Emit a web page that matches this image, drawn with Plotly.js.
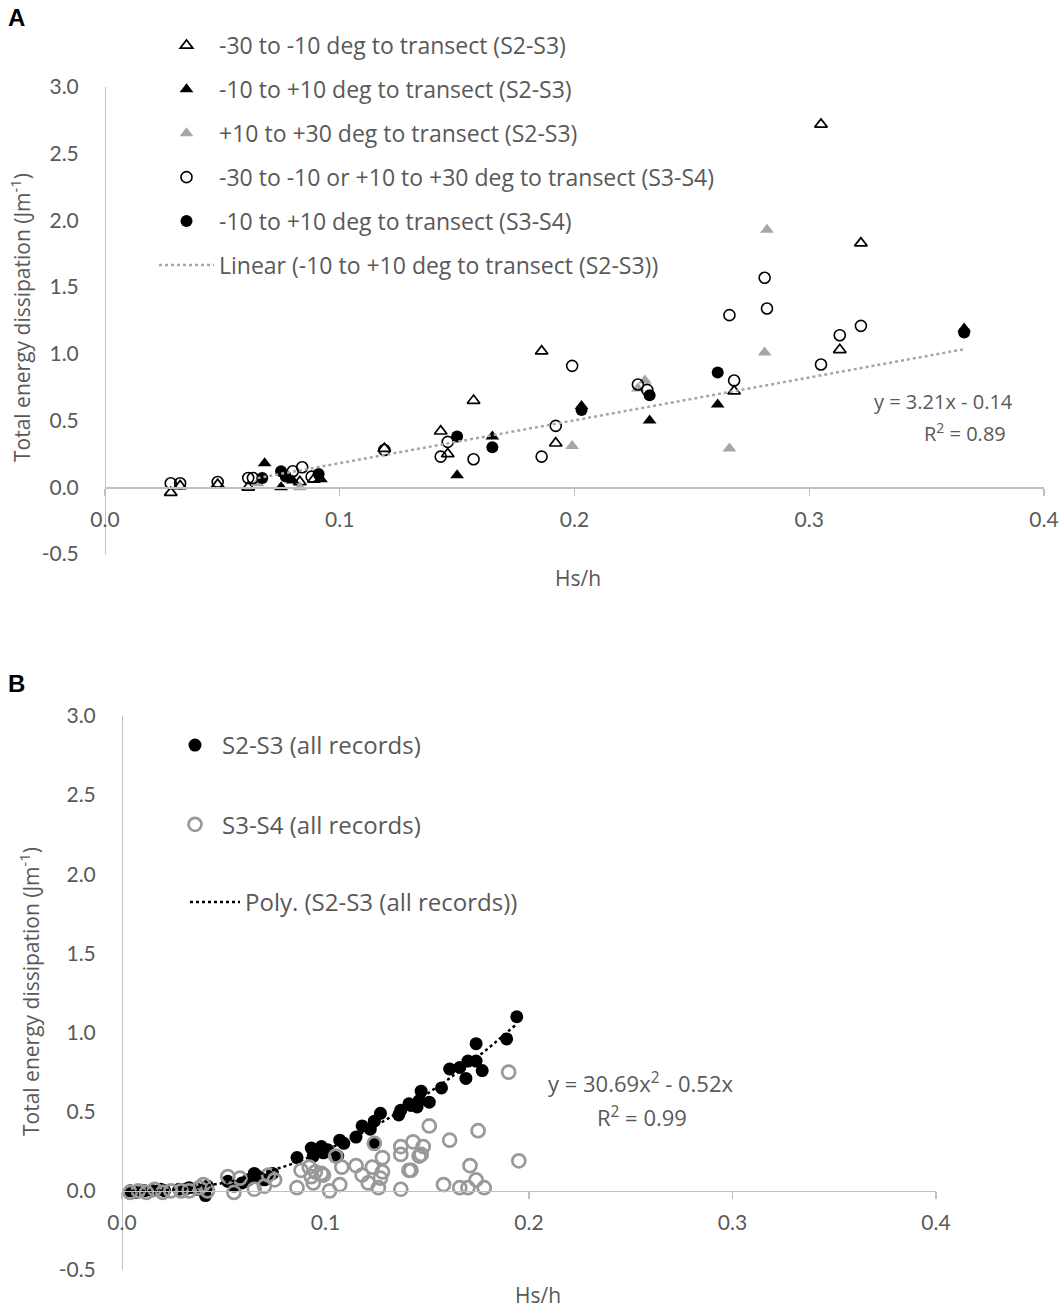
<!DOCTYPE html>
<html>
<head>
<meta charset="utf-8">
<script src="https://cdn.plot.ly/plotly-3.0.1.min.js"></script>
<style>html,body{margin:0;padding:0;background:#fff;}#chart{width:1064px;height:1309px;}</style>
</head>
<body>
<div id="chart"></div>
<script>
// ---------- Panel A data ----------
const aOpenTriX = [0.028,0.032,0.048,0.061,0.083,0.089,0.119,0.143,0.146,0.157,0.186,0.192,0.268,0.305,0.313,0.322];
const aOpenTriY = [-0.04,0.01,0.02,0.00,0.04,0.06,0.29,0.42,0.25,0.65,1.02,0.33,0.72,2.72,1.03,1.83];
const aBlackTriX = [0.068,0.075,0.080,0.092,0.150,0.165,0.203,0.232,0.261,0.366];
const aBlackTriY = [0.18,0.00,0.05,0.06,0.09,0.38,0.61,0.50,0.62,1.19];
const aGrayTriX = [0.065,0.083,0.199,0.227,0.230,0.266,0.281,0.282];
const aGrayTriY = [0.03,0.00,0.31,0.74,0.80,0.29,1.01,1.93];
const aOpenCircX = [0.028,0.032,0.048,0.061,0.063,0.080,0.084,0.088,0.119,0.143,0.146,0.157,0.186,0.192,0.199,0.227,0.231,0.266,0.268,0.281,0.282,0.305,0.313,0.322];
const aOpenCircY = [0.03,0.03,0.04,0.07,0.07,0.12,0.15,0.08,0.28,0.23,0.34,0.21,0.23,0.46,0.91,0.77,0.73,1.29,0.80,1.57,1.34,0.92,1.14,1.21];
const aBlackCircX = [0.067,0.075,0.077,0.091,0.150,0.165,0.203,0.232,0.261,0.366];
const aBlackCircY = [0.07,0.12,0.08,0.10,0.38,0.30,0.58,0.69,0.86,1.16];
const aTrendSlope = 3.21, aTrendIntercept = -0.14, aTrendX = [0.065, 0.366];

const aLegend = [
  "-30 to -10 deg to transect (S2-S3)",
  "-10 to +10 deg to transect (S2-S3)",
  "+10 to +30 deg to transect (S2-S3)",
  "-30 to -10 or +10 to +30 deg to transect (S3-S4)",
  "-10 to +10 deg to transect (S3-S4)",
  "Linear (-10 to +10 deg to transect (S2-S3))"
];

// ---------- Panel B data ----------
const bS2X = [0.004,0.007,0.011,0.015,0.019,0.021,0.028,0.031,0.033,0.037,0.041,0.042,
  0.052,0.055,0.059,0.062,0.065,0.067,0.070,0.074,
  0.086,0.093,0.098,0.101,0.094,0.099,0.107,0.109,0.106,0.115,0.118,0.122,0.124,0.124,0.127,0.136,0.137,0.141,0.146,0.147,0.142,0.145,0.151,0.157,0.161,0.166,0.169,0.170,0.174,0.177,0.174,0.189,0.194];
const bS2Y = [0.00,-0.01,0.00,0.00,0.01,0.00,0.01,0.01,0.02,0.01,-0.03,0.03,
  0.06,0.03,0.05,0.07,0.11,0.09,0.07,0.11,
  0.21,0.27,0.28,0.26,0.22,0.24,0.32,0.30,0.22,0.34,0.41,0.39,0.44,0.30,0.49,0.48,0.51,0.55,0.57,0.63,0.54,0.53,0.56,0.65,0.77,0.78,0.71,0.82,0.82,0.76,0.93,0.96,1.10];
const bS3X = [0.004,0.008,0.012,0.016,0.020,0.024,0.029,0.033,0.038,0.040,0.042,
  0.052,0.055,0.058,0.065,0.070,0.075,0.072,
  0.086,0.088,0.093,0.094,0.098,0.092,0.095,0.099,0.102,0.105,0.107,0.108,0.115,0.118,0.121,0.123,0.124,0.126,0.127,0.128,0.128,0.137,0.137,0.137,0.141,0.142,0.143,0.146,0.147,0.148,0.151,0.158,0.161,0.166,0.170,0.171,0.174,0.175,0.178,0.190,0.195];
const bS3Y = [-0.01,0.00,-0.01,0.01,-0.01,0.00,0.00,0.00,0.02,0.04,0.00,
  0.09,-0.01,0.08,0.01,0.03,0.07,0.10,
  0.02,0.13,0.09,0.05,0.11,0.15,0.12,0.10,0.00,0.22,0.04,0.15,0.16,0.10,0.05,0.15,0.30,0.02,0.08,0.12,0.21,0.01,0.23,0.28,0.13,0.13,0.31,0.22,0.23,0.28,0.41,0.04,0.32,0.02,0.02,0.16,0.07,0.38,0.02,0.75,0.19];
const bPolyA = 30.69, bPolyB = -0.52, bPolyRange = [0.004, 0.194];

const bLegend = ["S2-S3 (all records)", "S3-S4 (all records)", "Poly. (S2-S3 (all records))"];

// ---------- tick labels ----------
const xTickVals = [0, 0.1, 0.2, 0.3, 0.4];
const xTickText = ["0.0", "0.1", "0.2", "0.3", "0.4"];
const yTickVals = [-0.5, 0, 0.5, 1.0, 1.5, 2.0, 2.5, 3.0];
const yTickText = ["-0.5", "0.0", "0.5", "1.0", "1.5", "2.0", "2.5", "3.0"];

// ---------- helpers ----------
const W = 1064, H = 1309;
const px = v => v / W;
const py = v => 1 - v / H;
const TICKFONT = "Lato, 'Liberation Sans', Arial, sans-serif";
const FONT = "'Open Sans', Lato, 'Liberation Sans', Arial, sans-serif";
const TXT = "#595959";
const AX = "#c0c0c0";

const polyX = [];
for (let i = 0; i <= 60; i++) polyX.push(bPolyRange[0] + (bPolyRange[1] - bPolyRange[0]) * i / 60);
const polyY = polyX.map(x => bPolyA * x * x + bPolyB * x);

const traces = [
  {x: aOpenTriX, y: aOpenTriY, type: 'scatter', mode: 'markers', name: aLegend[0], legendgroup: 'a1', legend: 'legend',
   marker: {symbol: 'triangle-up-open', size: 11, color: '#000', line: {width: 1.7, color: '#000'}}, xaxis: 'x', yaxis: 'y'},
  {x: aBlackTriX, y: aBlackTriY, type: 'scatter', mode: 'markers', name: aLegend[1], legendgroup: 'a2', legend: 'legend',
   marker: {symbol: 'triangle-up', size: 12, color: '#000'}, xaxis: 'x', yaxis: 'y'},
  {x: aGrayTriX, y: aGrayTriY, type: 'scatter', mode: 'markers', name: aLegend[2], legendgroup: 'a3', legend: 'legend',
   marker: {symbol: 'triangle-up', size: 12, color: '#a6a6a6'}, xaxis: 'x', yaxis: 'y'},
  {x: aOpenCircX, y: aOpenCircY, type: 'scatter', mode: 'markers', name: aLegend[3], legendgroup: 'a4', legend: 'legend',
   marker: {symbol: 'circle-open', size: 11, color: '#000', line: {width: 1.6, color: '#000'}}, xaxis: 'x', yaxis: 'y'},
  {x: aBlackCircX, y: aBlackCircY, type: 'scatter', mode: 'markers', name: aLegend[4], legendgroup: 'a5', legend: 'legend',
   marker: {symbol: 'circle', size: 12, color: '#000'}, xaxis: 'x', yaxis: 'y'},
  {x: aTrendX, y: aTrendX.map(x => aTrendSlope * x + aTrendIntercept), type: 'scatter', mode: 'lines', name: aLegend[5], legendgroup: 'a6', legend: 'legend',
   line: {color: '#a6a6a6', width: 2.5, dash: 'dot'}, xaxis: 'x', yaxis: 'y'},

  {x: bS2X, y: bS2Y, type: 'scatter', mode: 'markers', name: bLegend[0], legendgroup: 'b1', legend: 'legend2',
   marker: {symbol: 'circle', size: 13, color: '#000'}, xaxis: 'x2', yaxis: 'y2'},
  {x: bS3X, y: bS3Y, type: 'scatter', mode: 'markers', name: bLegend[1], legendgroup: 'b2', legend: 'legend2',
   marker: {symbol: 'circle-open', size: 13, color: '#999', line: {width: 2.7, color: '#999'}}, xaxis: 'x2', yaxis: 'y2'},
  {x: polyX, y: polyY, type: 'scatter', mode: 'lines', name: bLegend[2], legendgroup: 'b3', legend: 'legend3',
   line: {color: '#000', width: 2.5, dash: 'dot'}, xaxis: 'x2', yaxis: 'y2'}
];

// domains
const aX = [px(105), px(1044)], aY = [py(554), py(87)];
const bX = [px(122), px(936)], bY = [py(1270), py(716)];
const zeroPos = (d) => d[0] + (0.5 / 3.5) * (d[1] - d[0]);

const xCommon = {range: [0, 0.4], tickmode: 'array', tickvals: xTickVals, ticktext: xTickText, showgrid: false, zeroline: false,
  showline: true, linecolor: AX, linewidth: 1.3, ticks: 'outside', ticklen: 7, tickcolor: AX, tickwidth: 1.3,
  tickfont: {family: TICKFONT, size: 21, color: TXT}, ticklabelstandoff: 6, fixedrange: true};
const yCommon = {range: [-0.5, 3.0], tickmode: 'array', tickvals: yTickVals, ticktext: yTickText, showgrid: false, zeroline: false,
  showline: true, linecolor: AX, linewidth: 1.3, ticks: '',
  tickfont: {family: TICKFONT, size: 21, color: TXT}, ticklabelstandoff: 22, fixedrange: true};

const yTitle = "Total energy dissipation (Jm<sup>-1</sup>)";
const ann = (text, x, y, opts) => Object.assign({text: text, x: px(x), y: py(y), xref: 'paper', yref: 'paper',
  xanchor: 'center', yanchor: 'middle', showarrow: false, font: {family: FONT, size: 21, color: TXT}}, opts || {});
const f = (s) => ({family: FONT, size: s, color: TXT});

const layout = {
  width: W, height: H,
  margin: {l: 0, r: 0, t: 0, b: 0},
  paper_bgcolor: '#fff', plot_bgcolor: 'rgba(0,0,0,0)',
  showlegend: true,
  font: {family: FONT, color: TXT},
  xaxis: Object.assign({}, xCommon, {domain: aX, anchor: 'free', position: zeroPos(aY)}),
  yaxis: Object.assign({}, yCommon, {domain: aY, anchor: 'free', position: aX[0]}),
  xaxis2: Object.assign({}, xCommon, {domain: bX, anchor: 'free', position: zeroPos(bY)}),
  yaxis2: Object.assign({}, yCommon, {domain: bY, anchor: 'free', position: bX[0]}),
  legend: {x: px(154), y: py(24), xanchor: 'left', yanchor: 'top', traceorder: 'grouped', tracegroupgap: 11,
    bgcolor: 'rgba(0,0,0,0)', font: f(23), itemwidth: 55},
  legend2: {x: px(168), y: py(723), xanchor: 'left', yanchor: 'top', traceorder: 'grouped', tracegroupgap: 45,
    bgcolor: 'rgba(0,0,0,0)', font: f(24), itemwidth: 44},
  legend3: {x: px(185), y: py(880), xanchor: 'left', yanchor: 'top',
    bgcolor: 'rgba(0,0,0,0)', font: f(24), itemwidth: 50},
  annotations: [
    ann('<b>A</b>', 6, 17, {xanchor: 'left', font: {family: "'Liberation Sans', Arial, sans-serif", size: 24, color: '#000'}}),
    ann('<b>B</b>', 6, 683, {xanchor: 'left', font: {family: "'Liberation Sans', Arial, sans-serif", size: 24, color: '#000'}}),
    ann(yTitle, 20, 318, {textangle: -90}),
    ann('Hs/h', 578, 578),
    ann('y = 3.21x - 0.14', 1015, 401, {xanchor: 'right', font: f(20)}),
    ann('R<sup>2</sup> = 0.89', 1008, 432, {xanchor: 'right', font: f(20)}),
    ann(yTitle, 30, 992, {textangle: -90}),
    ann('Hs/h', 538, 1295),
    ann('y = 30.69x<sup>2</sup> - 0.52x', 640, 1082, {font: f(22)}),
    ann('R<sup>2</sup> = 0.99', 642, 1116, {font: f(22)})
  ]
};

Plotly.newPlot('chart', traces, layout, {displayModeBar: false, staticPlot: true});
</script>
</body>
</html>
